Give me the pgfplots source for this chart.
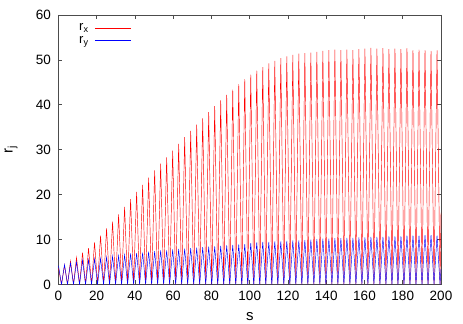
\documentclass[border=0pt]{standalone}
\usepackage{fontspec}
\setmainfont{Liberation Sans}
\usepackage{pgfplots}
\usepackage{pgfplotstable}
\pgfplotsset{compat=1.18}
\pgfplotstableread{
s rx ry
0.00 3.6 4.2
1.57 0 0
3.14 4.3 4.4
4.71 0 0
6.28 5.2 4.8
7.85 0 0
9.42 6.0 5.0
11.00 0 0
12.57 7.1 5.4
14.14 0 0
15.71 8.1 5.5
17.28 0 0
18.85 9.4 5.7
20.42 0 0
21.99 10.9 5.8
23.56 0 0
25.13 12.5 6.1
26.70 0 0
28.27 14.0 6.3
29.85 0 0
31.42 15.6 6.4
32.99 0 0
34.56 17.3 6.6
36.13 0 0
37.70 19.0 6.9
39.27 0 0
40.84 20.6 7.0
42.41 0 0
43.98 22.2 7.1
45.55 0 0
47.12 23.8 7.3
48.69 0 0
50.27 25.4 7.4
51.84 0 0
53.41 26.9 7.6
54.98 0 0
56.55 28.3 7.6
58.12 0 0
59.69 29.8 7.8
61.26 0 0
62.83 31.3 7.9
64.40 0 0
65.97 32.8 8.0
67.54 0 0
69.12 34.2 8.1
70.69 0 0
72.26 35.6 8.2
73.83 0 0
75.40 37.0 8.3
76.97 0 0
78.54 38.4 8.4
80.11 0 0
81.68 39.7 8.5
83.25 0 0
84.82 41.0 8.6
86.39 0 0
87.96 42.2 8.7
89.54 0 0
91.11 43.4 8.8
92.68 0 0
94.25 44.6 8.9
95.82 0 0
97.39 45.7 9.0
98.96 0 0
100.53 46.7 9.2
102.10 0 0
103.67 47.6 9.4
105.24 0 0
106.81 48.4 9.5
108.38 0 0
109.96 49.2 9.5
111.53 0 0
113.10 49.8 9.6
114.67 0 0
116.24 50.4 9.6
117.81 0 0
119.38 50.8 9.7
120.95 0 0
122.52 51.1 9.8
124.09 0 0
125.66 51.4 9.8
127.23 0 0
128.81 51.5 9.9
130.38 0 0
131.95 51.6 10.0
133.52 0 0
135.09 51.8 10.1
136.66 0 0
138.23 52.0 10.2
139.80 0 0
141.37 52.2 10.2
142.94 0 0
144.51 52.3 10.3
146.08 0 0
147.65 52.2 10.3
149.23 0 0
150.80 52.3 10.4
152.37 0 0
153.94 52.2 10.4
155.51 0 0
157.08 52.4 10.5
158.65 0 0
160.22 52.5 10.5
161.79 0 0
163.36 52.7 10.6
164.93 0 0
166.50 52.5 10.6
168.08 0 0
169.65 52.6 10.6
171.22 0 0
172.79 52.4 10.7
174.36 0 0
175.93 52.5 10.7
177.50 0 0
179.07 52.4 10.7
180.64 0 0
182.21 52.6 10.9
183.78 0 0
185.35 52.2 10.9
186.92 0 0
188.50 52.3 10.9
190.07 0 0
191.64 52.2 11.0
193.21 0 0
194.78 52.0 11.0
196.35 0 0
197.92 52.1 10.9
199.49 0 0
200.00 16.0 3.4
}\datatable
\begin{document}
\begin{tikzpicture}
\begin{axis}[
  name=ax,
  scale only axis,
  width=382.5pt, height=269.5pt,
  xmin=0, xmax=200, ymin=0, ymax=60,
  xtick={0,20,...,200}, ytick={0,10,...,60},
  tick align=inside, tick pos=both,
  major tick length=4pt,
  axis line style={line width=0.8pt, black!70},
  every tick/.style={line width=0.8pt, black!70},
  tick label style={font=\fontsize{13.5}{15}\selectfont},
  /pgf/number format/assume math mode=true,
  xticklabel style={yshift=-3pt},
  yticklabel style={xshift=-4pt},
  xlabel={s}, ylabel={r\textsubscript{j}},
  xlabel style={at={(axis description cs:0.5,-0.12)}, anchor=center, font=\fontsize{15}{17}\selectfont},
  ylabel style={at={(axis description cs:-0.124,0.5)}, anchor=center, font=\fontsize{15}{17}\selectfont},
  legend style={draw=none, fill=none, at={(axis description cs:0.19,0.975)}, anchor=north east,
    font=\fontsize{13}{15}\selectfont, inner sep=0pt, row sep=0pt, column sep=4pt},
  legend cell align=right,
  legend plot pos=right,
  legend image code/.code={\draw[#1, line width=0.4pt] (0pt,0pt) -- (36pt,0pt);},
]
\addplot[red, line width=0.45pt] table[x=s, y=rx] {\datatable};
\addlegendentry{r\textsubscript{x}}
\addplot[blue, line width=0.45pt] table[x=s, y=ry] {\datatable};
\addlegendentry{r\textsubscript{y}}
\end{axis}
\pgfresetboundingbox
\path ([xshift=-58.5pt,yshift=-39.5pt]ax.south west) rectangle ([xshift=22pt,yshift=15pt]ax.north east);
\end{tikzpicture}
\end{document}
